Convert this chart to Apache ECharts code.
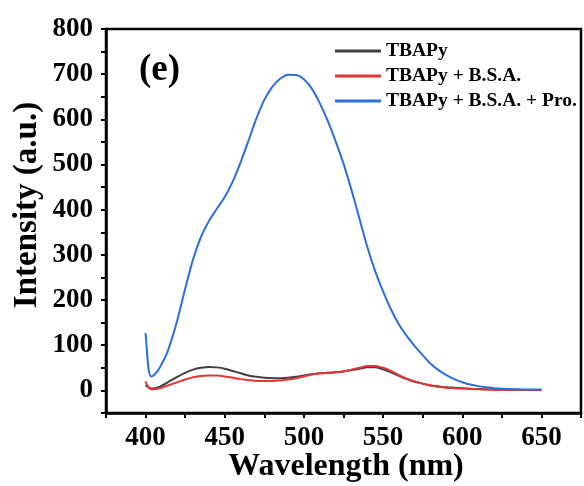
<!DOCTYPE html>
<html><head><meta charset="utf-8">
<script src="https://cdn.jsdelivr.net/npm/echarts@6/dist/echarts.min.js"></script>
<style>html,body{margin:0;padding:0;background:#fff}#c{width:584px;height:486px}</style>
</head><body><div id="c"></div>
<script>
const seriesNames = ['TBAPy', 'TBAPy + B.S.A.', 'TBAPy + B.S.A. + Pro.'];
const xTicks = [400, 450, 500, 550, 600, 650];
const yTicks = [0, 100, 200, 300, 400, 500, 600, 700, 800];
const tbapy = [[400,12],[402,6],[404,4],[407,6],[410,10],[415,20],[420,30],[425,39],[430,46],[435,50],[440,52],[445,51],[450,48],[455,43],[460,38],[465,33],[470,30],[475,28],[480,27],[485,27],[490,28],[495,30],[500,33],[505,36],[510,38],[515,39],[520,40],[525,42],[530,45],[535,48],[540,51],[545,51],[550,47],[555,40],[560,32],[565,25],[570,19],[575,15],[580,11],[585,9],[590,7],[595,6],[600,5],[610,3],[620,2],[630,1.5],[640,1],[650,1]];
const tbapyBsa = [[400,20],[401,12],[402,6],[404,2],[407,3],[410,6],[415,12],[420,18],[425,24],[430,29],[435,32],[440,33],[445,33],[450,31],[455,28],[460,25],[465,23],[470,21],[475,21],[480,21],[485,22],[490,24],[495,27],[500,31],[505,35],[510,38],[515,39],[520,40],[525,42],[530,46],[535,50],[540,54],[545,54],[550,50],[555,43],[560,34],[565,26],[570,20],[575,15],[580,11],[585,8],[590,6],[595,5],[600,4],[610,2.5],[620,1.5],[630,1],[640,0.8],[650,0.5]];
const tbapyBsaPro = [[400,127],[401,80],[402,45],[403.5,31],[405,33],[408,45],[410,57],[413,78],[416,108],[420,155],[425,225],[430,290],[435,340],[440,375],[445,402],[450,428],[455,462],[460,505],[465,553],[470,602],[475,643],[480,672],[485,690],[490,699],[495,698],[500,689],[505,668],[510,636],[515,597],[520,552],[525,502],[530,444],[535,381],[540,318],[545,264],[550,219],[555,179],[560,146],[565,120],[570,98],[575,78],[580,59],[585,45],[590,34],[595,25],[600,18],[605,13],[610,9.5],[615,7],[620,5],[630,3],[640,2],[650,2]];
const colors = ['#404040', '#e63535', '#2b6fd9'];
const font = 'Liberation Serif';
const chart = echarts.init(document.getElementById('c'), null, {renderer: 'canvas'});
const mk = (name, data, color) => ({
  name, type: 'line', data, smooth: 0.3, showSymbol: false, symbol: 'none',
  lineStyle: {color, width: 2}, itemStyle: {color}
});
chart.setOption({
  animation: false,
  grid: {left: 106, right: 3, top: 29, bottom: 73, show: true, borderColor: '#000', borderWidth: 2.5, outerBoundsMode: 'none', containLabel: false},
  legend: {
    orient: 'vertical', left: 330, top: 36, itemWidth: 46, itemHeight: 3, itemGap: 5,
    icon: 'rect', data: seriesNames,
    textStyle: {fontFamily: font, fontWeight: 'bold', fontSize: 19.5, color: '#000'}
  },
  graphic: [
    {type: 'text', left: 139, top: 52, style: {text: '(e)', font: 'bold 37px "Liberation Serif"', fill: '#000'}},
    {type: 'text', x: 27, y: 205, rotation: Math.PI / 2,
      style: {text: 'Intensity (a.u.)', font: 'bold 33px "Liberation Serif"', fill: '#000', align: 'center', verticalAlign: 'middle'}},
    {type: 'text', x: 346, y: 467,
      style: {text: 'Wavelength (nm)', font: 'bold 32px "Liberation Serif"', fill: '#000', align: 'center', verticalAlign: 'middle'}}
  ],
  xAxis: {
    type: 'value', min: 375, max: 675, interval: 25,
    axisLine: {onZero: false, lineStyle: {color: '#000', width: 2.5}},
    axisTick: {length: 5, lineStyle: {color: '#000', width: 2}},
    splitLine: {show: false},
    axisLabel: {margin: 12, fontFamily: font, fontWeight: 'bold', fontSize: 27, color: '#000',
      formatter: v => xTicks.includes(v) ? String(v) : ''}
  },
  yAxis: {
    type: 'value', min: -50, max: 800, interval: 50,
    axisLine: {onZero: false, lineStyle: {color: '#000', width: 2.5}},
    axisTick: {length: 5, lineStyle: {color: '#000', width: 2}},
    splitLine: {show: false},
    axisLabel: {margin: 13, fontFamily: font, fontWeight: 'bold', fontSize: 27, color: '#000',
      formatter: v => yTicks.includes(v) ? String(v) : ''}
  },
  series: [mk(seriesNames[0], tbapy, colors[0]), mk(seriesNames[1], tbapyBsa, colors[1]), mk(seriesNames[2], tbapyBsaPro, colors[2])]
});
</script></body></html>
